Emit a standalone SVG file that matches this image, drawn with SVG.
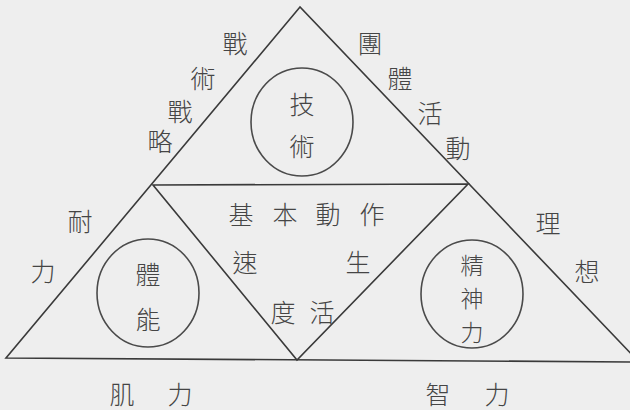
<svg xmlns="http://www.w3.org/2000/svg" width="630" height="410" viewBox="0 0 630 410">
<style>
.ln{fill:none;stroke:#3a3a3a;stroke-width:1.6;stroke-linejoin:miter}
.c{fill:none;stroke:#4a4a4a;stroke-width:1.6}
text{font-family:"Noto Sans CJK TC","Noto Sans CJK SC",sans-serif;font-size:25px;font-weight:300;fill:#454545;text-anchor:middle;dominant-baseline:central}
.sm{font-size:23px}
</style>
<rect width="630" height="410" fill="#eeeeee"/>
<g id="connectors">
<polygon class="ln" points="300,7 6,358 639,362"/>
<polygon class="ln" points="153,185 468,184 297,360"/>
</g>
<g id="node-top">
<ellipse class="c" cx="302" cy="122" rx="51" ry="54"/>
<text x="302" y="103">技</text>
<text x="302" y="145">術</text>
</g>
<g id="node-left">
<ellipse class="c" cx="148" cy="293" rx="51" ry="54"/>
<text x="148" y="273">體</text>
<text x="148" y="318">能</text>
</g>
<g id="node-right">
<ellipse class="c" cx="472" cy="294" rx="51" ry="54"/>
<text class="sm" x="472" y="264">精</text>
<text class="sm" x="472" y="297">神</text>
<text class="sm" x="472" y="331">力</text>
</g>
<g id="node-center">
<text x="241" y="213">基</text>
<text x="285" y="213">本</text>
<text x="328" y="213">動</text>
<text x="372" y="213">作</text>
<text x="245" y="261">速</text>
<text x="283" y="311">度</text>
<text x="358" y="261">生</text>
<text x="322" y="311">活</text>
</g>
<g id="label-strategy">
<text x="235" y="42">戰</text>
<text x="203" y="77">術</text>
<text x="180" y="110">戰</text>
<text x="160" y="140">略</text>
</g>
<g id="label-group">
<text x="370" y="42">團</text>
<text x="400" y="77">體</text>
<text x="430" y="112">活</text>
<text x="458" y="147">動</text>
</g>
<g id="label-endurance">
<text x="80" y="220">耐</text>
<text x="43" y="270">力</text>
</g>
<g id="label-ideal">
<text x="548" y="222">理</text>
<text x="587" y="270">想</text>
</g>
<g id="label-muscle">
<text x="122" y="393">肌</text>
<text x="180" y="393">力</text>
</g>
<g id="label-intellect">
<text x="438" y="393">智</text>
<text x="497" y="393">力</text>
</g>
</svg>
